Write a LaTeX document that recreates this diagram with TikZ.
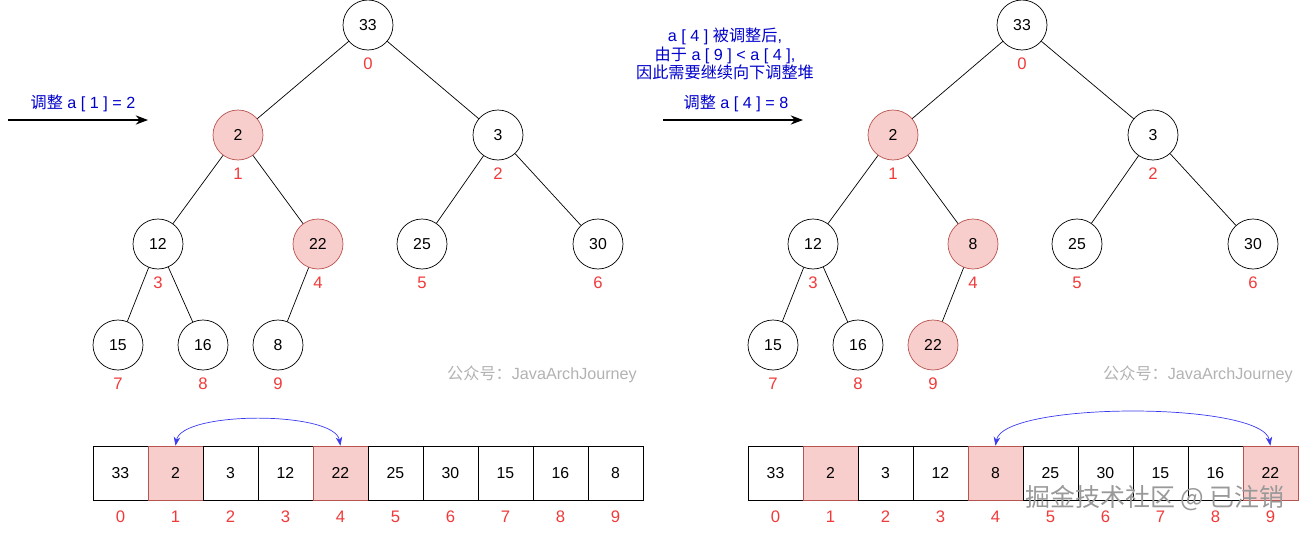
\documentclass[tikz,border=0pt]{standalone}
\usepackage{fontspec}
\setmainfont{Liberation Sans}
\newfontfamily\cjk{Noto Sans CJK SC}
\usetikzlibrary{arrows.meta}

\definecolor{hotfill}{HTML}{F8CECC}
\definecolor{hotline}{HTML}{B85450}
\definecolor{idxred}{HTML}{F03A3A}
\definecolor{noteblue}{HTML}{0000CC}
\definecolor{swapblue}{HTML}{3A3AF0}

\tikzset{
  heapnode/.style={circle, draw, minimum size=1cm, inner sep=0pt, font=\fontsize{9}{11}\selectfont},
  hotnode/.style={heapnode, fill=hotfill, draw=hotline},
  cell/.style={rectangle, draw, minimum width=1.1cm, minimum height=1.08cm, inner sep=0pt, font=\fontsize{9}{11}\selectfont},
  hotcell/.style={cell, fill=hotfill, draw=hotline},
  idx/.style={text=idxred, inner sep=0pt, font=\fontsize{9.5}{11}\selectfont},
  note/.style={text=noteblue, inner sep=0pt, align=center, font=\fontsize{9.2}{10.6}\selectfont},
  wmark/.style={text=black!30, inner sep=0pt, font=\fontsize{9.2}{11}\selectfont},
  swap/.style={{Stealth[length=5pt]}-{Stealth[length=5pt]}, swapblue, thin}
}

\begin{document}
\begin{tikzpicture}[x=0.02cm, y=-0.02cm, node distance=1.1cm]
\useasboundingbox (0,0) rectangle (1303,532);

% left tree
\node[heapnode] (l0) at (368,25) {33};
\node[hotnode] (l1) at (238,135) {2};
\node[heapnode] (l2) at (498,135) {3};
\node[heapnode] (l3) at (158,244) {12};
\node[hotnode] (l4) at (318,244) {22};
\node[heapnode] (l5) at (422,244) {25};
\node[heapnode] (l6) at (598,244) {30};
\node[heapnode] (l7) at (118,345) {15};
\node[heapnode] (l8) at (203,345) {16};
\node[heapnode] (l9) at (278,345) {8};

\draw (l0) -- (l1);
\draw (l0) -- (l2);
\draw (l1) -- (l3);
\draw (l1) -- (l4);
\draw (l2) -- (l5);
\draw (l2) -- (l6);
\draw (l3) -- (l7);
\draw (l3) -- (l8);
\draw (l4) -- (l9);

\node[idx, below of=l0, node distance=0.78cm] (li0) {0};
\node[idx, below of=l1, node distance=0.78cm] (li1) {1};
\node[idx, below of=l2, node distance=0.78cm] (li2) {2};
\node[idx, below of=l3, node distance=0.78cm] (li3) {3};
\node[idx, below of=l4, node distance=0.78cm] (li4) {4};
\node[idx, below of=l5, node distance=0.78cm] (li5) {5};
\node[idx, below of=l6, node distance=0.78cm] (li6) {6};
\node[idx, below of=l7, node distance=0.78cm] (li7) {7};
\node[idx, below of=l8, node distance=0.78cm] (li8) {8};
\node[idx, below of=l9, node distance=0.78cm] (li9) {9};

% right tree
\node[heapnode] (r0) at (1022,25) {33};
\node[hotnode] (r1) at (893,135) {2};
\node[heapnode] (r2) at (1153,135) {3};
\node[heapnode] (r3) at (813,244) {12};
\node[hotnode] (r4) at (973,244) {8};
\node[heapnode] (r5) at (1077,244) {25};
\node[heapnode] (r6) at (1253,244) {30};
\node[heapnode] (r7) at (773,345) {15};
\node[heapnode] (r8) at (858,345) {16};
\node[hotnode] (r9) at (933,345) {22};

\draw (r0) -- (r1);
\draw (r0) -- (r2);
\draw (r1) -- (r3);
\draw (r1) -- (r4);
\draw (r2) -- (r5);
\draw (r2) -- (r6);
\draw (r3) -- (r7);
\draw (r3) -- (r8);
\draw (r4) -- (r9);

\node[idx, below of=r0, node distance=0.78cm] (ri0) {0};
\node[idx, below of=r1, node distance=0.78cm] (ri1) {1};
\node[idx, below of=r2, node distance=0.78cm] (ri2) {2};
\node[idx, below of=r3, node distance=0.78cm] (ri3) {3};
\node[idx, below of=r4, node distance=0.78cm] (ri4) {4};
\node[idx, below of=r5, node distance=0.78cm] (ri5) {5};
\node[idx, below of=r6, node distance=0.78cm] (ri6) {6};
\node[idx, below of=r7, node distance=0.78cm] (ri7) {7};
\node[idx, below of=r8, node distance=0.78cm] (ri8) {8};
\node[idx, below of=r9, node distance=0.78cm] (ri9) {9};

% left array
\node[cell] (la0) at (120.5,473) {33};
\node[hotcell, right of=la0] (la1) {2};
\node[cell, right of=la1] (la2) {3};
\node[cell, right of=la2] (la3) {12};
\node[hotcell, right of=la3] (la4) {22};
\node[cell, right of=la4] (la5) {25};
\node[cell, right of=la5] (la6) {30};
\node[cell, right of=la6] (la7) {15};
\node[cell, right of=la7] (la8) {16};
\node[cell, right of=la8] (la9) {8};

\node[idx, below of=la0, node distance=0.88cm] (lai0) {0};
\node[idx, below of=la1, node distance=0.88cm] (lai1) {1};
\node[idx, below of=la2, node distance=0.88cm] (lai2) {2};
\node[idx, below of=la3, node distance=0.88cm] (lai3) {3};
\node[idx, below of=la4, node distance=0.88cm] (lai4) {4};
\node[idx, below of=la5, node distance=0.88cm] (lai5) {5};
\node[idx, below of=la6, node distance=0.88cm] (lai6) {6};
\node[idx, below of=la7, node distance=0.88cm] (lai7) {7};
\node[idx, below of=la8, node distance=0.88cm] (lai8) {8};
\node[idx, below of=la9, node distance=0.88cm] (lai9) {9};

\draw[swap] (la1.north) to[out=80, in=100, looseness=0.55] (la4.north);

% right array
\node[cell] (ra0) at (775.5,473) {33};
\node[hotcell, right of=ra0] (ra1) {2};
\node[cell, right of=ra1] (ra2) {3};
\node[cell, right of=ra2] (ra3) {12};
\node[hotcell, right of=ra3] (ra4) {8};
\node[cell, right of=ra4] (ra5) {25};
\node[cell, right of=ra5] (ra6) {30};
\node[cell, right of=ra6] (ra7) {15};
\node[cell, right of=ra7] (ra8) {16};
\node[hotcell, right of=ra8] (ra9) {22};

\node[idx, below of=ra0, node distance=0.88cm] (rai0) {0};
\node[idx, below of=ra1, node distance=0.88cm] (rai1) {1};
\node[idx, below of=ra2, node distance=0.88cm] (rai2) {2};
\node[idx, below of=ra3, node distance=0.88cm] (rai3) {3};
\node[idx, below of=ra4, node distance=0.88cm] (rai4) {4};
\node[idx, below of=ra5, node distance=0.88cm] (rai5) {5};
\node[idx, below of=ra6, node distance=0.88cm] (rai6) {6};
\node[idx, below of=ra7, node distance=0.88cm] (rai7) {7};
\node[idx, below of=ra8, node distance=0.88cm] (rai8) {8};
\node[idx, below of=ra9, node distance=0.88cm] (rai9) {9};

\draw[swap] (ra4.north) to[out=80, in=100, looseness=0.42] (ra9.north);

% step arrows and notes
\coordinate (lfrom) at (8,120);
\coordinate (lto) at (148,120);
\draw[-{Stealth[length=7pt]}, semithick] (lfrom) -- (lto);
\node[note] (lstep) at (83,103) {{\cjk 调整} a [ 1 ] = 2};

\coordinate (rfrom) at (663,120);
\coordinate (rto) at (803,120);
\draw[-{Stealth[length=7pt]}, semithick] (rfrom) -- (rto);
\node[note] (rstep) at (736,103) {{\cjk 调整} a [ 4 ] = 8};
\node[note] (why) at (725,54) {a [ 4 ] {\cjk 被调整后}, \\ {\cjk 由于} a [ 9 ] < a [ 4 ], \\ {\cjk 因此需要继续向下调整堆}};

% watermarks
\node[wmark] (lwm) at (542,374) {{\cjk 公众号：}JavaArchJourney};
\node[wmark] (rwm) at (1198,374) {{\cjk 公众号：}JavaArchJourney};
\node[text=black!40, inner sep=0pt, font=\fontsize{14.2}{16}\cjk] (site) at (1155,498) {掘金技术社区 @ 已注销};
\end{tikzpicture}
\end{document}
